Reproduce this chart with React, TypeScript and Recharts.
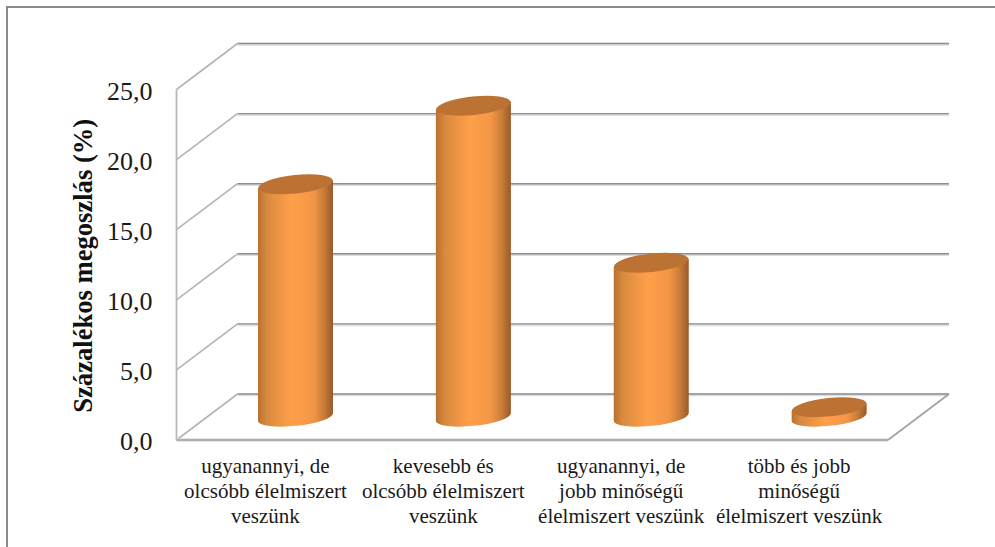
import React from 'react';
import { BarChart, Bar, XAxis, YAxis, CartesianGrid } from 'recharts';

const categories = ['cat1', 'cat2', 'cat3', 'cat4'];
const categoryLines = [
  ['ugyanannyi, de', 'olcsóbb élelmiszert', 'veszünk'],
  ['kevesebb és', 'olcsóbb élelmiszert', 'veszünk'],
  ['ugyanannyi, de', 'jobb minőségű', 'élelmiszert veszünk'],
  ['több és jobb', 'minőségű', 'élelmiszert veszünk'],
];
const values = [16.6, 22.2, 11.0, 0.7];
const yTicks = [0, 5, 10, 15, 20, 25];
const yTitle = 'Százalékos megoszlás (%)';

const data = categories.map((category, i) => ({ category, value: values[i] }));

const WIDTH = 995;
const HEIGHT = 547;
const PLOT_LEFT = 176.5;
const PLOT_TOP = 89.5;
const PLOT_RIGHT = 888;
const PLOT_BOTTOM = 440;
const DEPTH_X = 61;
const DEPTH_Y = -46;
const SERIF = '"Liberation Serif", serif';

const GridLine = (props: any) => {
  const { x1, x2, y1 } = props;
  const backX1 = x1 + DEPTH_X;
  const backX2 = x2 + DEPTH_X;
  const backY = y1 + DEPTH_Y;
  const isFloor = Math.abs(y1 - PLOT_BOTTOM) < 1;
  return (
    <g key={`grid-${y1}`} fill="none">
      <path d={`M${x1},${y1}L${backX1},${backY}`} stroke="#b4b4b4" strokeWidth={1.6} />
      <line x1={backX1} x2={backX2} y1={backY + 0.8} y2={backY + 0.8} stroke="#dedede" strokeWidth={3} />
      <line x1={backX1} x2={backX2} y1={backY} y2={backY} stroke="#8e8e8e" strokeWidth={1.4} />
      {isFloor && (
        <>
          <line x1={x1} x2={x2} y1={y1} y2={y1} stroke="#dcdcdc" strokeWidth={3.4} />
          <line x1={x1} x2={x2} y1={y1} y2={y1} stroke="#a0a0a0" strokeWidth={1.6} />
          <path d={`M${x2},${y1}L${backX2},${backY}`} stroke="#a0a0a0" strokeWidth={1.6} />
          <line x1={x1} x2={x1} y1={PLOT_TOP} y2={y1} stroke="#b8b8b8" strokeWidth={1.8} />
        </>
      )}
    </g>
  );
};

const Cylinder = (props: any) => {
  const { x, y, width, height } = props;
  const rx = 37.5;
  const ry = 8.8;
  const tilt = -6;
  const lift = 3.9;
  const cx = x + width / 2 + DEPTH_X / 2;
  const top = y + DEPTH_Y / 2;
  const base = y + height + DEPTH_Y / 2;
  const body = `M${cx - rx},${top + lift}L${cx - rx},${base + lift}A${rx},${ry} ${tilt} 0 0 ${cx + rx},${base - lift}L${cx + rx},${top - lift}Z`;
  return (
    <g>
      <path d={body} fill="url(#cylinderBody)" />
      <ellipse cx={cx} cy={top} rx={rx} ry={ry + 0.4} fill="#bb7233" transform={`rotate(${tilt} ${cx} ${top})`} />
    </g>
  );
};

const CategoryTick = (props: any) => {
  const { x, y, payload } = props;
  const lines = categoryLines[payload.index] || [];
  return (
    <text x={x} y={y} textAnchor="middle" fontFamily={SERIF} fontSize={21} fill="#1a1a1a">
      {lines.map((line: string, i: number) => (
        <tspan key={line} x={x} dy={i === 0 ? 0 : 24.8}>
          {line}
        </tspan>
      ))}
    </text>
  );
};

export default function App() {
  return (
    <div style={{ position: 'absolute', left: 0, top: 0, width: WIDTH, height: HEIGHT, overflow: 'hidden', background: '#fff' }}>
      <div
        style={{
          position: 'absolute',
          left: 6,
          top: 6,
          width: WIDTH,
          height: HEIGHT,
          borderLeft: '2px solid #8a8a8a',
          borderTop: '2px solid #8a8a8a',
        }}
      />
      <BarChart
        width={WIDTH}
        height={HEIGHT}
        data={data}
        barSize={75}
        margin={{ top: PLOT_TOP, right: WIDTH - PLOT_RIGHT, bottom: 37, left: PLOT_LEFT - 60 }}
        style={{ position: 'absolute', left: 0, top: 0 }}
      >
        <defs>
          <linearGradient id="cylinderBody" x1="0" y1="0" x2="1" y2="0">
            <stop offset="0%" stopColor="#b8722f" />
            <stop offset="12%" stopColor="#d98a3e" />
            <stop offset="45%" stopColor="#ff9f4a" />
            <stop offset="74%" stopColor="#f29646" />
            <stop offset="88%" stopColor="#c87c38" />
            <stop offset="100%" stopColor="#99592a" />
          </linearGradient>
        </defs>
        <CartesianGrid vertical={false} horizontal={GridLine as any} />
        <XAxis
          dataKey="category"
          height={70}
          interval={0}
          axisLine={false}
          tickLine={false}
          tickMargin={27}
          tick={<CategoryTick />}
        />
        <YAxis
          width={60}
          domain={[0, 25]}
          ticks={yTicks}
          axisLine={false}
          tickLine={false}
          tickMargin={18}
          tickFormatter={(v: number) => v.toFixed(1).replace('.', ',')}
          tick={{ fontFamily: SERIF, fontSize: 26, fill: '#1a1a1a', dy: 1 }}
          label={{
            value: yTitle,
            angle: -90,
            position: 'insideLeft',
            dx: -39,
            dy: 148,
            style: { fontFamily: SERIF, fontSize: 26.6, fontWeight: 700, fill: '#111' },
          }}
        />
        <Bar dataKey="value" shape={<Cylinder />} isAnimationActive={false} />
      </BarChart>
    </div>
  );
}
